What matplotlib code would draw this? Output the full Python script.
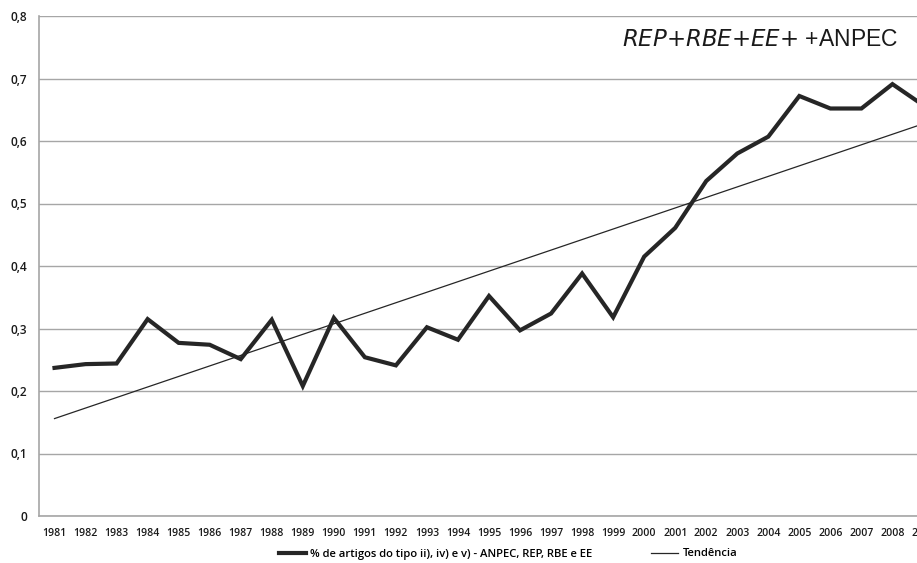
import matplotlib
matplotlib.use("Agg")
import matplotlib.pyplot as plt
import numpy as np

years = list(range(1981, 2010))
values = [0.237, 0.243, 0.244, 0.315, 0.277, 0.274, 0.251, 0.314, 0.208, 0.317,
          0.254, 0.241, 0.302, 0.282, 0.352, 0.297, 0.324, 0.388, 0.318, 0.415,
          0.461, 0.536, 0.580, 0.607, 0.672, 0.652, 0.652, 0.691, 0.657]
y_ticks = [0, 0.1, 0.2, 0.3, 0.4, 0.5, 0.6, 0.7, 0.8]
y_tick_labels = ["0", "0,1", "0,2", "0,3", "0,4", "0,5", "0,6", "0,7", "0,8"]
series_label = "% de artigos do tipo ii), iv) e v) - ANPEC, REP, RBE e EE"
trend_label = "Tendência"

W, H = 917, 563
fig = plt.figure(figsize=(W / 100, H / 100), dpi=100)
fig.patch.set_facecolor("white")
ax = fig.add_axes([39 / W, (H - 516) / H, 900 / W, 500 / H])

x = np.array(years, dtype=float)
yv = np.array(values)
coef = np.polyfit(x, yv, 1)
trend = np.polyval(coef, x)

l1, = ax.plot(x, yv, color="#262626", lw=3.0, solid_joinstyle="miter", label=series_label, zorder=3)
l2, = ax.plot(x, trend, color="#262626", lw=0.9, label=trend_label, zorder=2)

ax.set_xlim(1980.5, 2009.5)
ax.set_ylim(0, 0.8)
ax.set_yticks(y_ticks)
ax.set_yticklabels(y_tick_labels)
ax.set_xticks(years)
ax.set_xticklabels([str(v) for v in years])
ax.grid(axis="y", color="#a6a6a6", lw=1.0)
ax.set_axisbelow(True)
for s in ["top", "right"]:
    ax.spines[s].set_visible(False)
for s in ["left", "bottom"]:
    ax.spines[s].set_color("#a6a6a6")
    ax.spines[s].set_linewidth(1.2)
ax.tick_params(axis="both", length=0, colors="#1a1a1a")
ax.tick_params(axis="x", pad=9, labelsize=7.6)
ax.tick_params(axis="y", pad=8.5, labelsize=8.6)
for lab in ax.get_xticklabels() + ax.get_yticklabels():
    lab.set_fontfamily("Open Sans")
    lab.set_fontweight("semibold")

fig.text(898 / W, 1 - 40 / H, r"$\it{REP{+}RBE{+}EE{+}}$ +ANPEC", ha="right", va="center",
         fontsize=16.5, family="Liberation Sans", color="#1a1a1a")

leg = fig.legend(handles=[l1, l2], loc="center", bbox_to_anchor=(508 / W, 1 - 554 / H),
                 ncol=2, frameon=False, handlelength=2.4, columnspacing=5.2,
                 handletextpad=0.4, prop={"family": "Open Sans", "size": 8.1, "weight": "semibold"})

fig.savefig("out.png", dpi=100)
